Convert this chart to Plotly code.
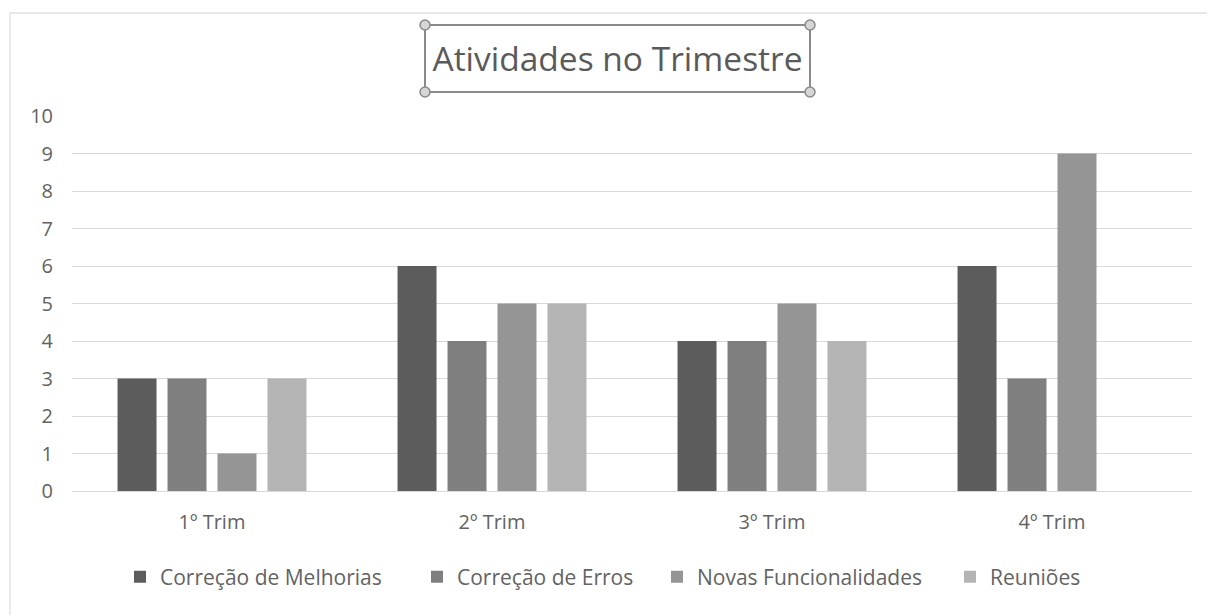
import plotly.graph_objects as go

# Quarterly activity counts
trimestres = ["1º Trim", "2º Trim", "3º Trim", "4º Trim"]
series_nomes = ["Correção de Melhorias", "Correção de Erros", "Novas Funcionalidades", "Reuniões"]
correcao_melhorias = [3, 6, 4, 6]
correcao_erros = [3, 4, 4, 3]
novas_funcionalidades = [1, 5, 5, 9]
reunioes = [3, 5, 4, 0]
y_ticks = list(range(0, 11))

valores = [correcao_melhorias, correcao_erros, novas_funcionalidades, reunioes]
cores = ["#5c5c5c", "#7f7f7f", "#959595", "#b4b4b4"]

FONT = "'Open Sans', Lato, sans-serif"
TXT = "#636363"

W, H = 1207, 615
ML, MR, MT, MB = 72, 15, 116, 124
pw, ph = W - ML - MR, H - MT - MB

# one legend per series so each entry sits at its own horizontal position
legend_ids = ["legend", "legend2", "legend3", "legend4"]
legend_text_x = [160, 457, 697, 990]

fig = go.Figure()
for nome, vals, cor, lid in zip(series_nomes, valores, cores, legend_ids):
    fig.add_trace(go.Bar(x=trimestres, y=vals, name=nome, legend=lid, showlegend=True,
                         marker=dict(color=cor, line=dict(width=0))))


def px(x):
    return (x - ML) / pw


def py(y):
    return (H - MB - y) / ph


shapes = []
# outer chart frame
shapes.append(dict(type="line", xref="paper", yref="paper", x0=px(10), x1=px(1207), y0=py(13), y1=py(13),
                   line=dict(color="#d0d0d0", width=1)))
shapes.append(dict(type="line", xref="paper", yref="paper", x0=px(10), x1=px(10), y0=py(13), y1=py(615),
                   line=dict(color="#d8d8d8", width=1)))
# title selection box
bx0, bx1, by0, by1 = 425, 810, 25, 92
shapes.append(dict(type="rect", xref="paper", yref="paper", x0=px(bx0), x1=px(bx1), y0=py(by0), y1=py(by1),
                   line=dict(color="#8a8a8a", width=2)))
for cx in (bx0, bx1):
    for cy in (by0, by1):
        r = 5
        shapes.append(dict(type="circle", xref="paper", yref="paper",
                           x0=px(cx - r), x1=px(cx + r), y0=py(cy - r), y1=py(cy + r),
                           line=dict(color="#8a8a8a", width=1.5), fillcolor="#d6d6d6"))

layout_legends = {}
for lid, tx in zip(legend_ids, legend_text_x):
    layout_legends[lid] = dict(orientation="h", xref="container", yref="container",
                               x=(tx - 40) / W, xanchor="left", y=1 - 577 / H, yanchor="middle",
                               font=dict(size=21, color=TXT, family=FONT), itemwidth=30,
                               bgcolor="rgba(0,0,0,0)")

fig.update_layout(
    width=W, height=H,
    margin=dict(l=ML, r=MR, t=MT, b=MB),
    paper_bgcolor="white", plot_bgcolor="white",
    font=dict(family=FONT, color=TXT, size=20),
    showlegend=True,
    barmode="group", bargap=0.286, bargroupgap=0.22,
    title=dict(text="Atividades no Trimestre", xref="container", x=617.5 / W, xanchor="center",
               y=1 - 59 / H, yanchor="middle",
               font=dict(size=33.5, color="#5a5a5a", family=FONT)),
    shapes=shapes,
    xaxis=dict(showgrid=False, showline=False, ticks="", tickfont=dict(size=20), ticklabelstandoff=17),
    yaxis=dict(range=[0, 10], tickvals=y_ticks, showgrid=True, gridcolor="#d9d9d9", gridwidth=1,
               zeroline=True, zerolinecolor="#d9d9d9", zerolinewidth=1, showline=False,
               tickfont=dict(size=20), ticklabelstandoff=18),
    **layout_legends,
)

fig.write_html("out.html")
